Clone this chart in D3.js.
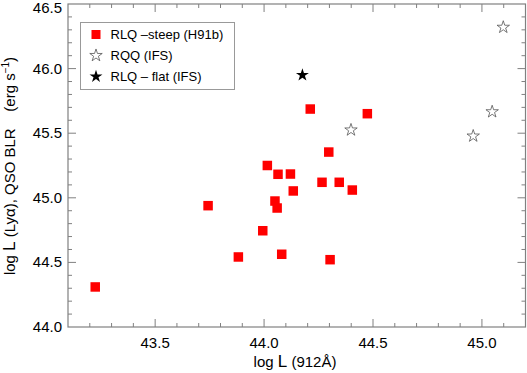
<!DOCTYPE html>
<html>
<head>
<meta charset="utf-8">
<script src="https://cdn.jsdelivr.net/npm/d3@7"></script>
<style>
body { margin: 0; background: #fff; }
text { font-family: "Liberation Sans", Arial, sans-serif; }
</style>
</head>
<body>
<div id="chart"></div>
<script>
// data
var rlqSteepX = [43.225, 43.743, 43.882, 43.994, 44.015, 44.05, 44.06, 44.064, 44.081,
                 44.121, 44.134, 44.212, 44.266, 44.297, 44.303, 44.345, 44.405, 44.474];
var rlqSteepY = [44.31, 44.939, 44.542, 44.745, 45.25, 44.975, 44.921, 45.182, 44.563,
                 45.184, 45.053, 45.687, 45.12, 45.354, 44.521, 45.12, 45.06, 45.651];
var rqqX = [44.399, 44.96, 45.047, 45.098];
var rqqY = [45.525, 45.478, 45.666, 46.32];
var rlqFlatX = [44.176];
var rlqFlatY = [45.95];
var xTicks = [43.5, 44.0, 44.5, 45.0];
var yTicks = [44.0, 44.5, 45.0, 45.5, 46.0, 46.5];

var width = 527,
    height = 373;

var svg = d3.select("#chart")
    .append("svg")
    .attr("width", width)
    .attr("height", height);

var x = d3.scaleLinear().domain([43.1, 45.2]).range([68, 525.5]);
var y = d3.scaleLinear().domain([44.0, 46.5]).range([327, 4]);

var axisColor = "#808080";

// frame
svg.append("rect")
    .attr("x", x.range()[0])
    .attr("y", y.range()[1])
    .attr("width", x.range()[1] - x.range()[0])
    .attr("height", y.range()[0] - y.range()[1])
    .attr("fill", "none")
    .attr("stroke", axisColor)
    .attr("stroke-width", 1.2);

// ticks (inward, on all four sides)
var minorX = d3.range(43.2, 45.2, 0.1);
var minorY = d3.range(44.1, 46.5, 0.1);
function isMajor(v) { return Math.abs(v * 2 - Math.round(v * 2)) < 1e-6; }

var ticks = svg.append("g").attr("stroke", axisColor).attr("stroke-width", 1);
minorX.forEach(function (v) {
    var len = isMajor(v) ? 8 : 4;
    ticks.append("line").attr("x1", x(v)).attr("x2", x(v))
        .attr("y1", y.range()[0]).attr("y2", y.range()[0] - len);
    ticks.append("line").attr("x1", x(v)).attr("x2", x(v))
        .attr("y1", y.range()[1]).attr("y2", y.range()[1] + len);
});
minorY.forEach(function (v) {
    var len = isMajor(v) ? 8 : 4;
    ticks.append("line").attr("y1", y(v)).attr("y2", y(v))
        .attr("x1", x.range()[0]).attr("x2", x.range()[0] + len);
    ticks.append("line").attr("y1", y(v)).attr("y2", y(v))
        .attr("x1", x.range()[1]).attr("x2", x.range()[1] - len);
});

// tick labels
svg.append("g").selectAll("text")
    .data(xTicks)
    .enter()
    .append("text")
    .attr("x", function (d) { return x(d); })
    .attr("y", 348)
    .attr("text-anchor", "middle")
    .attr("font-size", 15)
    .text(function (d) { return d.toFixed(1); });

svg.append("g").selectAll("text")
    .data(yTicks)
    .enter()
    .append("text")
    .attr("x", 62)
    .attr("y", function (d) { return Math.max(y(d) + 5, 13); })
    .attr("text-anchor", "end")
    .attr("font-size", 15)
    .text(function (d) { return d.toFixed(1); });

// axis titles
var xt = svg.append("text")
    .attr("x", 295)
    .attr("y", 367)
    .attr("text-anchor", "middle")
    .attr("font-size", 15);
xt.append("tspan").text("log ");
xt.append("tspan").attr("font-size", 17).text("L");
xt.append("tspan").text(" (912Å)");

var yt = svg.append("text")
    .attr("transform", "translate(15,166) rotate(-90)")
    .attr("text-anchor", "middle")
    .attr("font-size", 15)
    .attr("xml:space", "preserve");
yt.append("tspan").text("log ");
yt.append("tspan").attr("font-size", 17).text("L");
yt.append("tspan").text(" (Lyα), QSO BLR    (erg s");
yt.append("tspan").attr("font-size", 10).attr("dy", -6).text("−1");
yt.append("tspan").attr("dy", 6).text(")");

// markers
var star = d3.symbol().type(d3.symbolStar);
var sq = 9.5;

svg.append("g").selectAll("rect")
    .data(d3.range(rlqSteepX.length))
    .enter()
    .append("rect")
    .attr("x", function (i) { return x(rlqSteepX[i]) - sq / 2; })
    .attr("y", function (i) { return y(rlqSteepY[i]) - sq / 2; })
    .attr("width", sq)
    .attr("height", sq)
    .attr("fill", "#ff0000");

svg.append("g").selectAll("path")
    .data(d3.range(rqqX.length))
    .enter()
    .append("path")
    .attr("d", star.size(48))
    .attr("transform", function (i) { return "translate(" + x(rqqX[i]) + "," + y(rqqY[i]) + ")"; })
    .attr("fill", "none")
    .attr("stroke", "#555")
    .attr("stroke-width", 0.8);

svg.append("g").selectAll("path")
    .data(d3.range(rlqFlatX.length))
    .enter()
    .append("path")
    .attr("d", star.size(52))
    .attr("transform", function (i) { return "translate(" + x(rlqFlatX[i]) + "," + y(rlqFlatY[i]) + ")"; })
    .attr("fill", "#000");

// legend
var legend = svg.append("g");
legend.append("rect")
    .attr("x", 80.5).attr("y", 22.5)
    .attr("width", 154).attr("height", 67)
    .attr("fill", "#fff")
    .attr("stroke", "#999")
    .attr("stroke-width", 1);
var legRows = ["RLQ –steep (H91b)", "RQQ (IFS)", "RLQ – flat (IFS)"];
legRows.forEach(function (label, i) {
    var cy = 34.5 + i * 21;
    if (i == 0) {
        legend.append("rect").attr("x", 96 - 4.5).attr("y", cy - 4.5)
            .attr("width", 9).attr("height", 9).attr("fill", "#ff0000");
    } else {
        legend.append("path").attr("d", star.size(i == 2 ? 52 : 48))
            .attr("transform", "translate(96," + cy + ")")
            .attr("fill", i == 2 ? "#000" : "none")
            .attr("stroke", i == 2 ? "none" : "#555")
            .attr("stroke-width", 0.8);
    }
    legend.append("text")
        .attr("x", 110.5)
        .attr("y", cy + 4.5)
        .attr("font-size", 13)
        .text(label);
});
</script>
</body>
</html>
